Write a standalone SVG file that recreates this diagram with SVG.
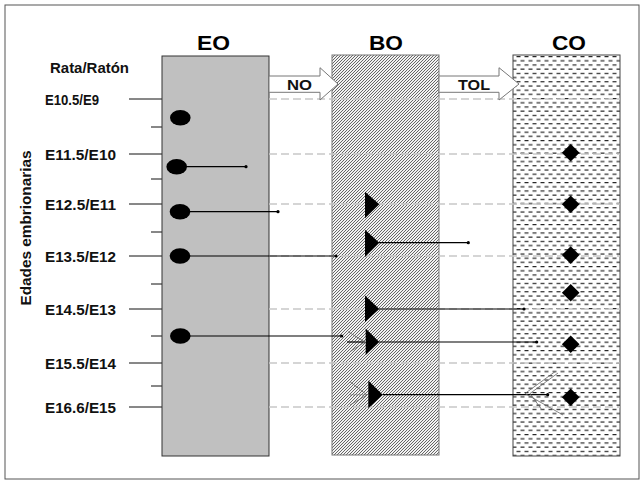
<svg xmlns="http://www.w3.org/2000/svg" width="644" height="482" viewBox="0 0 644 482">
<defs>
<pattern id="hatch" patternUnits="userSpaceOnUse" width="3" height="3">
<rect width="3" height="3" fill="#f2f2f2"/>
<path d="M-1,1 L1,-1 M0,3 L3,0 M2,4 L4,2" stroke="#1a1a1a" stroke-width="0.65"/>
</pattern>
<pattern id="dashes" patternUnits="userSpaceOnUse" width="8" height="8.4">
<rect width="8" height="8.4" fill="#fff"/>
<path d="M0.5,2 H4.5 M4.5,6.2 H8.5 M-3.5,6.2 H0.5" stroke="#222" stroke-width="1"/>
</pattern>
</defs>
<style>
.lbl{font-family:"Liberation Sans",Arial,sans-serif;font-size:15px;font-weight:bold;fill:#111}
.hdr{font-family:"Liberation Sans",Arial,sans-serif;font-size:21px;font-weight:bold;fill:#000}
.tick{stroke:#111;stroke-width:1}
.grid{stroke:#c8c8c8;stroke-width:1.3;stroke-dasharray:8 4}
.conn{stroke:#000;stroke-width:1.2;fill:none}
.dot{fill:#000}
.ghost{stroke:#666;stroke-width:0.8;fill:none}
.bigarrow{fill:#fff;stroke:#777;stroke-width:1}
</style>
<rect x="5" y="5" width="634" height="474" fill="#fff" stroke="#555" stroke-width="1"/>

<g id="axis">
<text class="lbl" x="50" y="72.5" textLength="79" lengthAdjust="spacingAndGlyphs">Rata/Ratón</text>
<text class="lbl" transform="translate(31,228) rotate(-90)" text-anchor="middle" textLength="155" lengthAdjust="spacingAndGlyphs">Edades embrionarias</text>
<text class="lbl" x="45" y="105" textLength="54" lengthAdjust="spacingAndGlyphs">E10.5/E9</text>
<text class="lbl" x="45" y="160" textLength="71" lengthAdjust="spacingAndGlyphs">E11.5/E10</text>
<text class="lbl" x="45" y="210" textLength="71" lengthAdjust="spacingAndGlyphs">E12.5/E11</text>
<text class="lbl" x="45" y="262" textLength="71" lengthAdjust="spacingAndGlyphs">E13.5/E12</text>
<text class="lbl" x="45" y="315" textLength="71" lengthAdjust="spacingAndGlyphs">E14.5/E13</text>
<text class="lbl" x="45" y="369" textLength="71" lengthAdjust="spacingAndGlyphs">E15.5/E14</text>
<text class="lbl" x="45" y="413" textLength="71" lengthAdjust="spacingAndGlyphs">E16.6/E15</text>
<path class="tick" d="M129,99H162 M129,154H162 M129,204H162 M129,256H162 M129,309H162 M129,363H162 M129,407H162 M151,127H162 M151,179H162 M151,232H162 M151,284H162 M151,336H162 M151,386H162"/>
</g>

<g id="EO">
<rect x="162" y="56" width="107" height="400" fill="#c0c0c0" stroke="#333" stroke-width="1"/>
<text class="hdr" x="197" y="50" textLength="33" lengthAdjust="spacingAndGlyphs">EO</text>
</g>
<g id="BO">
<rect x="332" y="55" width="107" height="400" fill="url(#hatch)" stroke="#777" stroke-width="1"/>
<text class="hdr" x="369" y="50" textLength="34" lengthAdjust="spacingAndGlyphs">BO</text>
</g>
<g id="CO">
<rect x="513" y="55" width="107" height="401" fill="url(#dashes)" stroke="#444" stroke-width="1"/>
<text class="hdr" x="552" y="50" textLength="34" lengthAdjust="spacingAndGlyphs">CO</text>
</g>

<g id="gridlines">
<path class="grid" d="M269,99H620 M269,154H620 M269,204H620 M269,256H620 M269,309H620 M269,363H620 M269,407H620"/>
</g>

<g id="transfer-arrows">
<path class="bigarrow" d="M269,76 H320 V67.7 L338,84 L320,100 V92.3 H269 Z"/>
<text class="lbl" x="287" y="90" textLength="25" lengthAdjust="spacingAndGlyphs">NO</text>
<path class="bigarrow" d="M439,76 H499 V67.7 L519,84 L499,100 V92.3 H439 Z"/>
<text class="lbl" x="458" y="90" textLength="32" lengthAdjust="spacingAndGlyphs">TOL</text>
</g>

<g id="connectors">
<path class="conn" d="M186,166.7H246 M190,211.7H278 M190,256H336 M190,336H341.7 M379,242.7H468.3 M379,309H524 M379,342H536.7 M382.7,394.7H547.7"/>
<circle class="dot" cx="246" cy="166.7" r="1.6"/>
<circle class="dot" cx="278" cy="211.7" r="1.6"/>
<circle class="dot" cx="336" cy="256" r="1.6"/>
<circle class="dot" cx="341.7" cy="336" r="1.6"/>
<circle class="dot" cx="468.3" cy="242.7" r="1.6"/>
<circle class="dot" cx="524" cy="309" r="1.6"/>
<circle class="dot" cx="536.7" cy="342" r="1.6"/>
<circle class="dot" cx="547.7" cy="394.7" r="1.6"/>
<path class="conn" d="M347,342H365"/>
<path class="ghost" d="M348,331.7 L365,342 L350,351.7 M350,381.7 L367,395 L350,405"/>
<path class="ghost" stroke-dasharray="2 1" d="M350,395H368"/>
<path class="ghost" d="M555,371.7 L525,393.5 L563,415 M558,373 L530,393.5 M530,393.5 L542,410"/>
</g>

<g id="EO-markers">
<ellipse cx="180.3" cy="117.7" rx="10.3" ry="7.8"/>
<ellipse cx="176.7" cy="166.7" rx="10.3" ry="7.8"/>
<ellipse cx="180" cy="211.7" rx="10.3" ry="7.8"/>
<ellipse cx="180" cy="256" rx="10.3" ry="7.8"/>
<ellipse cx="180.3" cy="336" rx="10.3" ry="7.8"/>
</g>
<g id="BO-markers">
<path d="M365,191.7 L379.3,204.3 L365,218.3Z"/>
<path d="M365,229.7 L379.3,242.7 L365,257Z"/>
<path d="M365,295.5 L379.3,309 L365,322Z"/>
<path d="M365.7,328.5 L379.3,342 L365.7,355Z"/>
<path d="M368.3,380.5 L382.7,394.7 L368.3,408.3Z"/>
</g>
<g id="CO-markers">
<path d="M570.7,144 L579.5,152.8 L570.7,161.6 L561.9,152.8Z"/>
<path d="M570.7,195.5 L579.5,204.3 L570.7,213.1 L561.9,204.3Z"/>
<path d="M570.7,246.3 L579.5,255.1 L570.7,263.9 L561.9,255.1Z"/>
<path d="M570.7,284 L579.5,292.8 L570.7,301.6 L561.9,292.8Z"/>
<path d="M570.7,335.5 L579.5,344.3 L570.7,353.1 L561.9,344.3Z"/>
<path d="M570.7,388.5 L579.5,397.3 L570.7,406.1 L561.9,397.3Z"/>
</g>
</svg>
